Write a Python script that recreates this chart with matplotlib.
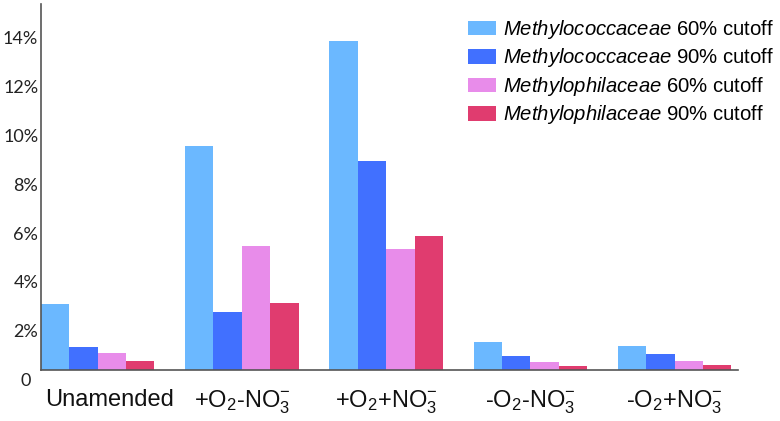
import matplotlib
matplotlib.use("Agg")
import matplotlib.pyplot as plt
import matplotlib.transforms as mtransforms
import numpy as np

plt.rcParams['font.family'] = ['Liberation Sans', 'DejaVu Sans']
plt.rcParams['mathtext.fontset'] = 'custom'
plt.rcParams['mathtext.rm'] = 'Liberation Sans'
plt.rcParams['mathtext.it'] = 'Liberation Sans:italic'
plt.rcParams['mathtext.bf'] = 'Liberation Sans:bold'

categories = ['Unamended', r'+O$_2$-NO$_3^{-}$', r'+O$_2$+NO$_3^{-}$',
              r'-O$_2$-NO$_3^{-}$', r'-O$_2$+NO$_3^{-}$']
series_names = [r'$\it{Methylococcaceae}$ 60% cutoff',
                r'$\it{Methylococcaceae}$ 90% cutoff',
                r'$\it{Methylophilaceae}$ 60% cutoff',
                r'$\it{Methylophilaceae}$ 90% cutoff']
methylococ_60 = [2.68, 9.16, 13.46, 1.11, 0.95]
methylococ_90 = [0.93, 2.37, 8.55, 0.55, 0.64]
methylophil_60 = [0.66, 5.06, 4.93, 0.31, 0.35]
methylophil_90 = [0.35, 2.74, 5.48, 0.14, 0.17]
series = [methylococ_60, methylococ_90, methylophil_60, methylophil_90]
colors = ['#6BB8FF', '#4170FF', '#E88CEA', '#E03C6F']
yticks = [0, 2, 4, 6, 8, 10, 12, 14]
ytick_labels = ['0', '2%', '4%', '6%', '8%', '10%', '12%', '14%']

fig = plt.figure(figsize=(7.8, 4.21), dpi=100)
ax = fig.add_axes([41/780, 1-369.5/421, (738-41)/780, (369.5-4)/421])

x = np.arange(len(categories))
w = 0.197
for i, (vals, c, name) in enumerate(zip(series, colors, series_names)):
    ax.bar(x + (i - 1.5) * w, vals, width=w, color=c, label=name, linewidth=0)

ax.set_xlim(-0.393, 4.44)
ax.set_ylim(0, 14.98)
for s in ['top', 'right']:
    ax.spines[s].set_visible(False)
for s in ['left', 'bottom']:
    ax.spines[s].set_color('#555555')
    ax.spines[s].set_linewidth(1.2)

ax.set_yticks(yticks)
ax.set_yticklabels(ytick_labels, fontsize=13, family=['Lato', 'DejaVu Sans'], color='#222222')
ax.tick_params(axis='y', length=0, pad=2)
for lab in ax.get_yticklabels():
    dx = -7/100 if lab.get_text() == '0' else 0
    lab.set_transform(lab.get_transform() + mtransforms.ScaledTranslation(dx, -10/100, fig.dpi_scale_trans))

ax.set_xticks(x)
ax.set_xticklabels(categories, fontsize=17, color='#111111')
ax.tick_params(axis='x', length=0, pad=14)
xl = ax.get_xticklabels()
xl[0].set_transform(xl[0].get_transform() + mtransforms.ScaledTranslation(12/100, 0, fig.dpi_scale_trans))

fs = 14.6
fpx = fs * 100 / 72
leg = ax.legend(loc='upper left', bbox_to_anchor=(468/780, 1-18/421),
                bbox_transform=fig.transFigure, frameon=False, fontsize=fs,
                borderpad=0, borderaxespad=0, handlelength=28/fpx, handleheight=15/fpx,
                handletextpad=6.7/fpx, labelspacing=0.27)

fig.savefig('out.png', dpi=100)
